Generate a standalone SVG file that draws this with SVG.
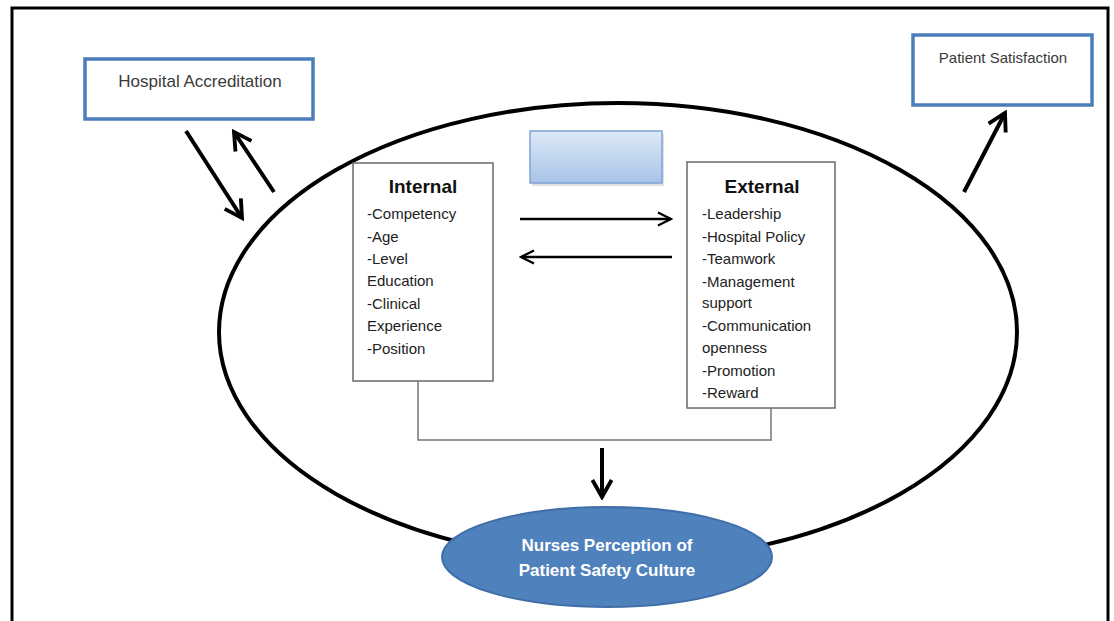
<svg xmlns="http://www.w3.org/2000/svg" width="1114" height="621" viewBox="0 0 1114 621">
<style>
  text { font-family: "Liberation Sans", Arial, sans-serif; }
  .bluebox { fill: #ffffff; stroke: #4a7ebb; stroke-width: 3.5; }
  .top { font-size: 17px; fill: #3a3a3a; text-anchor: middle; }
  .list { fill: #ffffff; stroke: #6a6a6a; stroke-width: 1.5; }
  .title { font-size: 19px; font-weight: bold; fill: #111; text-anchor: middle; }
  .item { font-size: 15px; fill: #222; }
  .big { fill: none; stroke: #000; stroke-width: 4; }
  .thick { fill: none; stroke: #000; stroke-width: 4; stroke-linecap: butt; }
  .thin { fill: none; stroke: #000; stroke-width: 2.5; }
  .bracket { fill: none; stroke: #777; stroke-width: 1.5; }
  .ell { font-size: 17px; font-weight: bold; fill: #ffffff; text-anchor: middle; }
</style>
<defs>
  <linearGradient id="g" x1="0" y1="0" x2="0" y2="1">
    <stop offset="0" stop-color="#dde9f7"/>
    <stop offset="1" stop-color="#a8c3e8"/>
  </linearGradient>
  <marker id="chev" viewBox="0 0 10 10" refX="8.6" refY="5" markerWidth="6" markerHeight="6" orient="auto" markerUnits="strokeWidth">
    <path d="M1.5,1 L8.6,5 L1.5,9" fill="none" stroke="#000" stroke-width="1.6" stroke-linejoin="miter"/>
  </marker>
  <marker id="chevthin" viewBox="0 0 10 10" refX="9" refY="5" markerWidth="6.5" markerHeight="6.5" orient="auto" markerUnits="strokeWidth">
    <path d="M1,1 L9,5 L1,9" fill="none" stroke="#000" stroke-width="1.4"/>
  </marker>
</defs>
<rect x="0" y="0" width="1114" height="621" fill="#ffffff"/>
<path d="M12,621 V8 H1108 V621" fill="none" stroke="#000" stroke-width="3"/>

<g id="context-ellipse">
  <ellipse cx="618" cy="332" rx="399" ry="229" class="big"/>
</g>

<g id="hospital-accreditation">
  <rect x="85" y="59" width="228" height="60" class="bluebox"/>
  <text x="200" y="87" class="top">Hospital Accreditation</text>
</g>

<g id="patient-satisfaction">
  <rect x="913" y="35" width="179" height="70" class="bluebox"/>
  <text x="1003" y="63" class="top" style="font-size:15px">Patient Satisfaction</text>
</g>

<g id="blank-box">
  <rect x="532" y="134" width="132" height="52" fill="#000" opacity="0.12"/>
  <rect x="530" y="131" width="132" height="52" fill="url(#g)" stroke="#7fa3d6" stroke-width="1.5"/>
</g>

<g id="internal">
  <rect x="353" y="163" width="140" height="218" class="list"/>
  <text x="423" y="193" class="title">Internal</text>
  <text x="367" y="219" class="item">-Competency</text>
  <text x="367" y="242" class="item">-Age</text>
  <text x="367" y="264" class="item">-Level</text>
  <text x="367" y="286" class="item">Education</text>
  <text x="367" y="309" class="item">-Clinical</text>
  <text x="367" y="331" class="item">Experience</text>
  <text x="367" y="354" class="item">-Position</text>
</g>

<g id="external">
  <rect x="687" y="162" width="148" height="246" class="list"/>
  <text x="762" y="193" class="title">External</text>
  <text x="702" y="219" class="item">-Leadership</text>
  <text x="702" y="242" class="item">-Hospital Policy</text>
  <text x="702" y="264" class="item">-Teamwork</text>
  <text x="702" y="287" class="item">-Management</text>
  <text x="702" y="308" class="item">support</text>
  <text x="702" y="331" class="item">-Communication</text>
  <text x="702" y="353" class="item">openness</text>
  <text x="702" y="376" class="item">-Promotion</text>
  <text x="702" y="398" class="item">-Reward</text>
</g>

<g id="nurses-perception">
  <ellipse cx="607" cy="557" rx="165" ry="50" fill="#4f81bd" stroke="#3f6ea8" stroke-width="2"/>
  <text x="607" y="551" class="ell">Nurses Perception of</text>
  <text x="607" y="576" class="ell">Patient Safety Culture</text>
</g>

<g id="connectors">
  <line x1="186" y1="131" x2="242" y2="218" class="thick" marker-end="url(#chev)"/>
  <line x1="274" y1="192" x2="234" y2="132" class="thick" marker-end="url(#chev)"/>
  <line x1="964" y1="192" x2="1005" y2="113" class="thick" marker-end="url(#chev)"/>
  <line x1="520" y1="219" x2="671" y2="219" class="thin" marker-end="url(#chevthin)"/>
  <line x1="672" y1="257" x2="521" y2="257" class="thin" marker-end="url(#chevthin)"/>
  <path d="M418,381 V440 H771 V408" class="bracket"/>
  <line x1="602" y1="448" x2="602" y2="497" class="thick" marker-end="url(#chev)"/>
</g>
</svg>
